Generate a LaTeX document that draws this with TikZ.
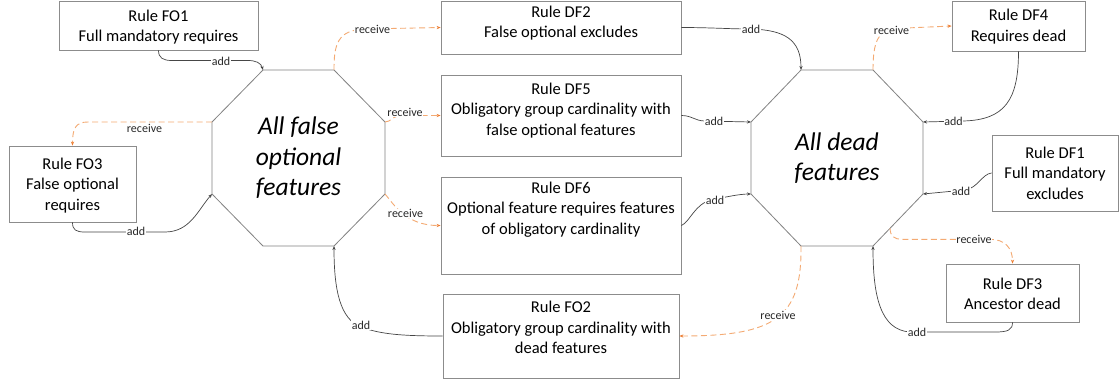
\documentclass[tikz,border=0pt]{standalone}
\usepackage{fontspec}
\setmainfont{Carlito}
\usetikzlibrary{arrows.meta,calc}
\definecolor{boxgray}{RGB}{140,140,140}
\definecolor{octgray}{RGB}{130,130,130}
\definecolor{addgray}{RGB}{70,70,70}
\definecolor{recor}{RGB}{244,170,115}
\definecolor{recordark}{RGB}{237,125,49}
\definecolor{lbltext}{RGB}{40,40,40}
\newcommand\rtext[4]{\parbox[c][#1][t]{#2}{\centering\rule{0pt}{#3}#4\par}}
\begin{document}
\begin{tikzpicture}[x=1pt,y=-1pt,
 rbox/.style={draw=boxgray,line width=0.8pt,fill=white,inner sep=0pt,font=\fontsize{16.5}{20.5}\selectfont},
 octline/.style={draw=octgray,line width=0.8pt},
 octtext/.style={align=center,font=\fontsize{25.5}{30.5}\selectfont\itshape,inner sep=0pt},
 addline/.style={draw=addgray,line width=0.7pt,-{Stealth[length=4pt,width=3.2pt]}},
 recline/.style={draw=recor,line width=0.9pt,dash pattern=on 6pt off 3.5pt,-{Stealth[length=4pt,width=3.2pt,color=recordark]}},
 lbl/.style={font=\fontsize{12}{14}\selectfont,text=lbltext,fill=white,inner sep=0.6pt}]
\fill[white] (0,0) rectangle (1120,380);
\useasboundingbox (0,0) rectangle (1120,380);

% left octagon
\coordinate (L1) at (263,70);  \coordinate (L2) at (334,70);
\coordinate (L3) at (385,122); \coordinate (L4) at (385,194);
\coordinate (L5) at (334,246); \coordinate (L6) at (263,246);
\coordinate (L7) at (212,194); \coordinate (L8) at (212,122);
\draw[octline] (L1) -- (L2) -- (L3) -- (L4) -- (L5) -- (L6) -- (L7) -- (L8) -- cycle;
\node[octtext] (lt) at (298.5,158) {All false\\optional\\features};

% right octagon
\coordinate (R1) at (801,70);  \coordinate (R2) at (873,70);
\coordinate (R3) at (923,122); \coordinate (R4) at (923,194);
\coordinate (R5) at (873,246); \coordinate (R6) at (801,246);
\coordinate (R7) at (751,194); \coordinate (R8) at (751,122);
\draw[octline] (R1) -- (R2) -- (R3) -- (R4) -- (R5) -- (R6) -- (R7) -- (R8) -- cycle;
\node[octtext] (rt) at (837,158) {All dead\\features};
\coordinate (e14) at ($(R4)!0.66!(R5)$);

% boxes
\node[rbox] (fo1) at (158.5,25.5) {\rtext{49pt}{199pt}{20pt}{Rule FO1\\Full mandatory requires}};
\node[rbox] (fo3) at (72.5,184) {\rtext{76pt}{127pt}{23pt}{Rule FO3\\False optional\\requires}};
\node[rbox] (df2) at (561,27.5) {\rtext{53pt}{240pt}{16.5pt}{Rule DF2\\False optional excludes}};
\node[rbox] (df5) at (561,115.5) {\rtext{81pt}{240pt}{19.3pt}{Rule DF5\\Obligatory group cardinality with\\false optional features}};
\node[rbox] (df6) at (561,225.5) {\rtext{97pt}{240pt}{16.3pt}{Rule DF6\\Optional feature requires features\\of obligatory cardinality}};
\node[rbox] (fo2) at (561,336) {\rtext{84pt}{236pt}{18.7pt}{Rule FO2\\Obligatory group cardinality with\\dead features}};
\node[rbox] (df4) at (1018.5,26) {\rtext{50pt}{133pt}{19.5pt}{Rule DF4\\Requires dead}};
\node[rbox] (df1) at (1055,173) {\rtext{76pt}{126pt}{23.3pt}{Rule DF1\\Full mandatory\\excludes}};
\node[rbox] (df3) at (1012.5,293) {\rtext{58pt}{133pt}{25pt}{Rule DF3\\Ancestor dead}};

% connectors: left octagon
\draw[addline] (fo1.south) .. controls (158.5,58) and (163,60.5) .. (172,60.5) -- (248,60.5) .. controls (256,60.5) and (261,63) .. (L1);
\draw[recline] (L2) .. controls (334,45) and (337,30) .. (365,29) -- (df2.west);
\draw[recline] (L3) .. controls (392,122) and (390,115.5) .. (405,115.5) -- (df5.west);
\draw[recline] (L4) .. controls (393,203) and (405,225.5) .. (df6.west);
\draw[recline] (L8) -- (88,122) .. controls (76,122) and (72.5,128) .. (fo3.north);
\draw[addline] (fo3.south) .. controls (72.5,230) and (76,232) .. (85,232) -- (165,232) .. controls (190,232) and (198,210) .. (L7);
\draw[addline] (fo2.west) .. controls (400,336) and (380,334) .. (361,327) .. controls (340,319) and (334,290) .. (L5);

% connectors: right octagon
\draw[addline] (df2.east) .. controls (710,27.5) and (730,29) .. (751,29) .. controls (785,30) and (801,40) .. (R1);
\draw[addline] (df5.east) .. controls (692,115.5) and (695,121) .. (705,121) -- (R8);
\draw[addline] (df6.east) .. controls (690,222) and (695,203) .. (712,200) .. controls (725,197) and (740,194) .. (R7);
\draw[recline] (R2) .. controls (873,42) and (878,30) .. (895,28.5) -- (df4.west);
\draw[addline] (df4.south) .. controls (1018.5,100) and (1005,120) .. (963,121) -- (R3);
\draw[addline] (df1.west) .. controls (982,174) and (978,188) .. (965,190) -- (R4);
\draw[recline] (e14) .. controls (890.5,236) and (893,239.3) .. (903,239.3) -- (990,239.3) .. controls (1005,239.3) and (1012.5,248) .. (df3.north);
\draw[addline] (df3.south) .. controls (1012.5,330) and (1008,332) .. (995,332) -- (910,332) .. controls (880,330) and (873,295) .. (R5);
\draw[recline] (R6) .. controls (802,318) and (775,336) .. (fo2.east);

% labels
\node[lbl] (a1) at (221,61.7) {add};
\node[lbl] (r2) at (372.5,29.3) {receive};
\node[lbl] (r3) at (405,112.5) {receive};
\node[lbl] (r4) at (405.5,213.3) {receive};
\node[lbl] (r5) at (144.5,128.5) {receive};
\node[lbl] (a6) at (136,231.7) {add};
\node[lbl] (a7) at (361,325) {add};
\node[lbl] (a8) at (751,29.3) {add};
\node[lbl] (a9) at (714,121) {add};
\node[lbl] (a10) at (715,200.5) {add};
\node[lbl] (r11) at (891.5,30) {receive};
\node[lbl] (a12) at (953.5,121) {add};
\node[lbl] (a13) at (961,191) {add};
\node[lbl] (r14) at (974,239) {receive};
\node[lbl] (a15) at (917,332.3) {add};
\node[lbl] (r16) at (778,315) {receive};
\end{tikzpicture}
\end{document}
